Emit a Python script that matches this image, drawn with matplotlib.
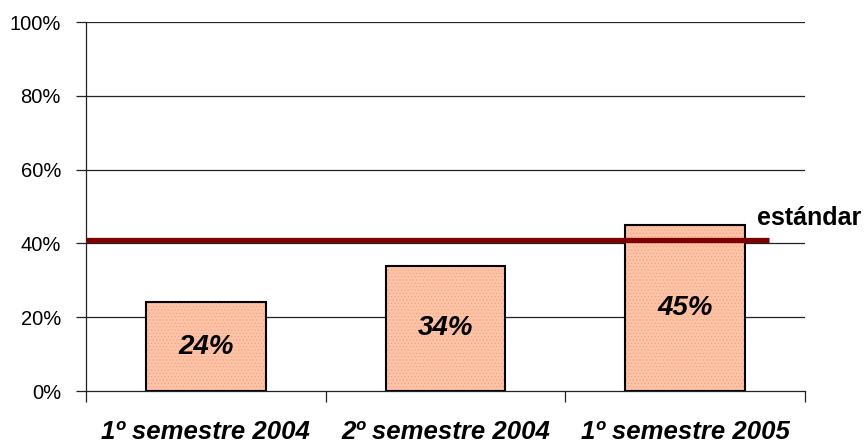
import matplotlib
matplotlib.use("Agg")
import matplotlib.pyplot as plt
import numpy as np

# datos
periodos = ["1º semestre 2004", "2º semestre 2004", "1º semestre 2005"]
valores = [24, 34, 45]
estandar = 41
yticks = [0, 20, 40, 60, 80, 100]

plt.rcParams['font.family'] = ['Liberation Sans', 'DejaVu Sans']
plt.rcParams['hatch.linewidth'] = 0.4

fig = plt.figure(figsize=(8.65, 4.45), dpi=100)
ax = fig.add_axes([0.0994, 0.1213, 0.8312, 0.8292])

x = np.arange(len(periodos))

# grid horizontal
for v in yticks[1:]:
    ax.axhline(v, color='#222222', lw=0.9, zorder=1)

# barras con relleno punteado
ax.bar(x, valores, width=0.5, color='#fcc3a6', edgecolor='#f29e7e',
       hatch='.....', linewidth=0, zorder=2)
ax.bar(x, valores, width=0.5, fill=False, edgecolor='black',
       linewidth=1.5, zorder=3)

for xi, v in zip(x, valores):
    ax.text(xi, v / 2, f"{v}%", ha='center', va='center', fontsize=20,
            fontweight='bold', fontstyle='italic', zorder=4)

# linea del estandar
ax.hlines(estandar, -0.5, 2.35, color='#7f0000', lw=3.8, zorder=5)
ax.text(2.30, 45, "estándar", ha='left', va='baseline', fontsize=18,
        fontweight='bold', clip_on=False)

ax.set_xlim(-0.5, 2.5)
ax.set_ylim(0, 100)
ax.set_yticks(yticks)
ax.set_yticklabels([f"{v}%" for v in yticks], fontsize=14.5)
ax.tick_params(axis='y', length=7, width=0.9, pad=11, color='#222222')

ax.set_xticks([-0.5, 0.5, 1.5, 2.5])
ax.set_xticklabels([])
ax.set_xticks(x, minor=True)
ax.set_xticklabels(periodos, minor=True, fontsize=18.5,
                   fontstyle='italic', fontweight='bold')
ax.tick_params(axis='x', which='major', length=8, width=0.9, color='#222222')
ax.tick_params(axis='x', which='minor', length=0, pad=21)

for s in ['top', 'right']:
    ax.spines[s].set_visible(False)
for s in ['left', 'bottom']:
    ax.spines[s].set_color('#222222')
    ax.spines[s].set_linewidth(0.9)

fig.savefig("out.png", dpi=100)
